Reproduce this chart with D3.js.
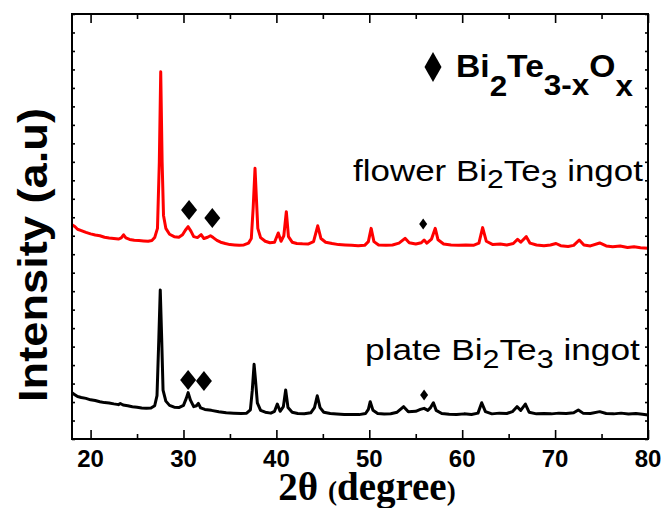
<!DOCTYPE html>
<html><head><meta charset="utf-8">
<script src="https://cdn.jsdelivr.net/npm/d3@7"></script>
<style>body{margin:0;background:#fff}svg{display:block}</style>
</head><body>
<svg id="c" width="662" height="508"></svg>
<script>
// ---- data (2θ in degree, intensity in a.u.) ----
const flowerTheta = [18.0,18.3,18.6,19.0,19.5,20.0,20.5,21.0,21.5,22.0,22.5,23.0,23.3,23.55,23.8,24.2,24.7,25.2,25.7,26.2,26.6,26.9,27.2,27.4,27.55,27.7,27.85,28.1,28.5,29.0,29.5,29.9,30.2,30.5,30.8,31.1,31.5,31.9,32.2,32.6,32.9,33.2,33.6,34.0,34.5,35.0,35.5,36.0,36.5,37.0,37.3,37.5,37.7,37.85,38.0,38.3,38.8,39.3,39.8,40.2,40.5,40.8,41.07,41.3,41.7,42.2,42.8,43.4,44.0,44.45,44.8,45.3,46.0,46.7,47.4,48.1,48.8,49.5,49.9,50.2,50.5,51.0,51.8,52.5,53.2,53.85,54.3,55.0,55.6,55.9,56.2,56.7,57.1,57.4,58.0,58.8,59.6,60.4,61.2,61.8,62.2,62.6,63.3,64.1,64.8,65.5,65.96,66.3,66.9,67.3,68.0,68.8,69.5,70.1,70.6,71.4,72.0,72.6,73.1,73.8,74.8,75.5,76.2,77.0,77.8,78.5,79.2,80.0];
const flowerI = [1160,1150,1135,1128,1118,1110,1104,1100,1092,1088,1085,1082,1088,1105,1088,1080,1076,1074,1072,1070,1074,1090,1140,1500,1988,1500,1210,1140,1108,1095,1092,1105,1130,1149,1125,1095,1090,1106,1085,1092,1100,1090,1075,1065,1058,1052,1050,1048,1050,1060,1085,1250,1465,1300,1140,1090,1070,1062,1065,1115,1070,1100,1230,1095,1065,1058,1056,1055,1068,1154,1085,1065,1058,1052,1050,1048,1046,1048,1068,1140,1068,1050,1048,1050,1060,1086,1062,1055,1062,1077,1060,1082,1140,1078,1055,1050,1048,1050,1048,1060,1144,1070,1052,1055,1050,1058,1081,1065,1095,1060,1050,1046,1050,1058,1046,1042,1048,1077,1050,1045,1061,1045,1040,1044,1036,1040,1035,1032];
const plateTheta = [18.0,18.3,18.6,19.0,19.5,20.0,20.5,21.0,21.5,22.0,22.5,23.0,23.2,23.5,24.0,24.5,25.0,25.5,26.0,26.5,26.9,27.15,27.35,27.5,27.65,27.8,28.1,28.5,29.0,29.5,30.0,30.3,30.5,30.75,31.1,31.4,31.6,31.85,32.3,33.0,33.8,34.6,35.4,36.2,36.8,37.2,37.4,37.6,37.75,37.95,38.3,38.8,39.4,39.8,40.1,40.4,40.75,41.0,41.25,41.7,42.3,43.0,43.7,44.1,44.4,44.7,45.1,45.8,46.5,47.3,48.1,48.9,49.6,49.9,50.1,50.4,50.9,51.6,52.3,53.0,53.7,54.2,55.0,55.5,55.9,56.3,56.6,56.9,57.2,57.8,58.6,59.4,60.2,61.0,61.7,62.1,62.5,63.2,64.0,64.8,65.4,65.9,66.3,66.8,67.2,68.0,68.8,69.6,70.4,71.2,72.0,72.5,73.0,73.8,74.8,75.5,76.3,77.1,77.9,78.7,79.4,80.0];
const plateI = [250,240,230,225,220,212,208,202,197,195,190,186,192,184,180,175,172,168,166,168,180,235,550,806,550,265,205,182,172,170,182,220,251,210,175,180,193,168,160,155,148,142,140,138,140,158,260,404,320,195,155,145,140,150,189,150,175,265,170,145,138,137,142,170,234,170,145,138,135,132,133,132,138,160,202,155,138,135,137,145,175,148,150,160,166,155,170,196,155,138,134,132,136,133,140,196,148,136,140,138,148,175,155,189,145,136,138,136,140,138,142,157,140,138,148,138,136,140,135,138,134,130];
// Bi2Te3-xOx markers (2θ, intensity where the diamond sits, big/small)
const markTheta = [30.6, 33.1, 55.8, 30.5, 32.2, 55.9];
const markI = [1239, 1196, 1163, 319, 314, 238];
const markBig = [true, true, false, true, true, false];
const xTicks = [20, 30, 40, 50, 60, 70, 80];
const xMinor = [25, 35, 45, 55, 65, 75];
const sampleLabels = ["flower", "plate"];

// ---- layout ----
const svg = d3.select("#c");
const L = 72, R = 648, T = 14, B = 439;
const x = d3.scaleLinear().domain([18, 80]).range([L, R]);
const y = d3.scaleLinear().domain([0, 2300]).range([B, T]);

// curves
const line = d3.line().x(d => x(d[0])).y(d => y(d[1]));
svg.append("path").datum(flowerTheta.map((t, i) => [t, flowerI[i]]))
  .attr("d", line).attr("fill", "none").attr("stroke", "#ff0000").attr("stroke-width", 3).attr("stroke-linejoin", "round");
svg.append("path").datum(plateTheta.map((t, i) => [t, plateI[i]]))
  .attr("d", line).attr("fill", "none").attr("stroke", "#000").attr("stroke-width", 3).attr("stroke-linejoin", "round");

// frame
svg.append("rect").attr("x", L).attr("y", T).attr("width", R - L).attr("height", B - T)
  .attr("fill", "none").attr("stroke", "#000").attr("stroke-width", 2);

// x axes (bottom + top, ticks inward)
const xb = d3.axisBottom(x).tickValues(xTicks).tickSize(-9).tickFormat("");
const gb = svg.append("g").attr("transform", `translate(0,${B})`).call(xb);
const xbm = d3.axisBottom(x).tickValues(xMinor).tickSize(-5).tickFormat("");
const gbm = svg.append("g").attr("transform", `translate(0,${B})`).call(xbm);
const xt = d3.axisTop(x).tickValues(xTicks).tickSize(-9).tickFormat("");
const gt = svg.append("g").attr("transform", `translate(0,${T})`).call(xt);
const xtm = d3.axisTop(x).tickValues(xMinor).tickSize(-5).tickFormat("");
const gtm = svg.append("g").attr("transform", `translate(0,${T})`).call(xtm);
const yl = d3.axisLeft(y).ticks(23).tickSize(-3).tickFormat("");
const gl = svg.append("g").attr("transform", `translate(${L},0)`).call(yl);
const yr = d3.axisRight(y).ticks(23).tickSize(-3).tickFormat("");
const gr = svg.append("g").attr("transform", `translate(${R},0)`).call(yr);
[gb, gbm, gt, gtm, gl, gr].forEach(g => {
  g.select(".domain").remove();
  g.selectAll("line").attr("stroke", "#000").attr("stroke-width", 1.6);
});
// tick labels
svg.append("g").selectAll("text").data(xTicks).join("text")
  .attr("x", d => x(d)).attr("y", 467).attr("text-anchor", "middle")
  .attr("font-family", "Liberation Sans, Arial, sans-serif").attr("font-weight", "bold")
  .attr("font-size", 24).text(d => d);

// x title
const xt1 = svg.append("text").attr("x", 367).attr("y", 500).attr("text-anchor", "middle")
  .attr("font-family", "Liberation Serif, Times New Roman, serif").attr("font-weight", "bold");
xt1.append("tspan").attr("font-size", 39).text("2θ ");
xt1.append("tspan").attr("font-size", 27).text("(");
xt1.append("tspan").attr("font-size", 39).text("degree");
xt1.append("tspan").attr("font-size", 27).text(")");

// y title
svg.append("text").attr("transform", "translate(46.5,255) rotate(-90)")
  .attr("text-anchor", "middle").attr("font-family", "Liberation Sans, Arial, sans-serif")
  .attr("font-weight", "bold").attr("font-size", 40)
  .attr("textLength", 294).attr("lengthAdjust", "spacingAndGlyphs")
  .text("Intensity (a.u)");

// diamonds
const diamond = (cx, cy, w, h) => `M${cx},${cy - h / 2}L${cx + w / 2},${cy}L${cx},${cy + h / 2}L${cx - w / 2},${cy}Z`;
svg.append("g").selectAll("path").data(markTheta.map((t, i) => [t, markI[i], markBig[i]])).join("path")
  .attr("d", d => d[2] ? diamond(x(d[0]), y(d[1]), 16, 20) : diamond(x(d[0]), y(d[1]), 8, 11))
  .attr("fill", "#000");

// legend
svg.append("path").attr("d", diamond(433, 67, 17, 30)).attr("fill", "#000");
const lg = svg.append("text").attr("x", 0).attr("y", 0)
  .attr("font-family", "Liberation Sans, Arial, sans-serif").attr("font-weight", "bold").attr("font-size", 31);
lg.append("tspan").text("Bi");
lg.append("tspan").attr("dy", 19).attr("font-size", 29).text("2");
lg.append("tspan").attr("dy", -19).text("Te");
lg.append("tspan").attr("dy", 18).attr("font-size", 29).text("3-x");
lg.append("tspan").attr("dy", -18).text("O");
lg.append("tspan").attr("dy", 19).attr("font-size", 29).text("x");
{
  const w = lg.node().getBBox().width;
  lg.attr("transform", `translate(456,77) scale(${177 / w},1)`);
}

// sample labels
function sampleLabel(name, x0, base, targetW) {
  const t = svg.append("text").attr("x", 0).attr("y", 0)
    .attr("font-family", "Liberation Sans, Arial, sans-serif").attr("font-size", 29);
  t.append("tspan").text(name + " Bi");
  t.append("tspan").attr("dy", 7.5).attr("font-size", 25).text("2");
  t.append("tspan").attr("dy", -7.5).text("Te");
  t.append("tspan").attr("dy", 7.5).attr("font-size", 25).text("3");
  t.append("tspan").attr("dy", -7.5).text(" ingot");
  const w = t.node().getBBox().width;
  t.attr("transform", `translate(${x0},${base}) scale(${targetW / w},1)`);
}
sampleLabel(sampleLabels[0], 353, 180.5, 290);
sampleLabel(sampleLabels[1], 365, 360, 275);
</script>
</body></html>
